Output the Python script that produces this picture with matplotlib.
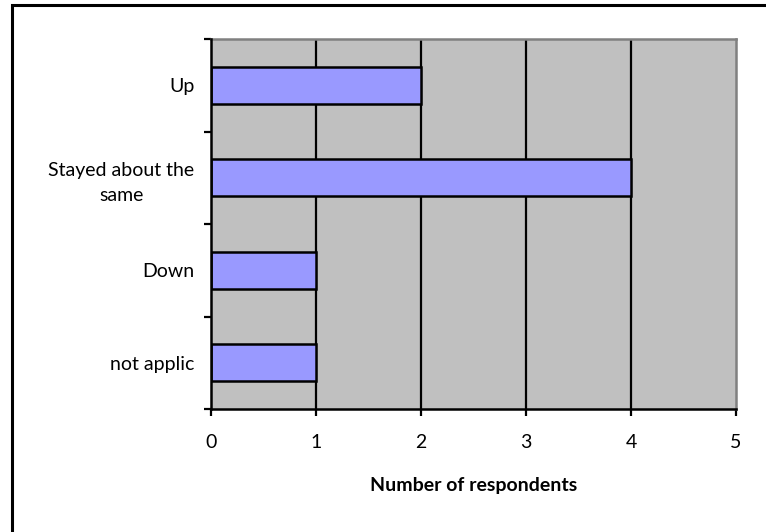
import matplotlib
matplotlib.use("Agg")
import matplotlib.pyplot as plt
from matplotlib.patches import Rectangle

categories = ["not applic", "Down", "Stayed about the\nsame", "Up"]
counts = [1, 1, 4, 2]
x_ticks = [0, 1, 2, 3, 4, 5]
x_label = "Number of respondents"

plt.rcParams["font.family"] = ["Lato", "DejaVu Sans"]
FS = 14

W, H = 766, 532
fig = plt.figure(figsize=(W / 100, H / 100), dpi=100)
fig.patch.set_facecolor("white")

# outer frame (left and top edges visible)
fig.add_artist(Rectangle((12 / W, -0.1), 1.2, (H - 5) / H + 0.1,
                         transform=fig.transFigure, fill=False,
                         edgecolor="black", linewidth=2.2))

left, right, top, bottom = 211, 736, 39, 409
ax = fig.add_axes([left / W, 1 - bottom / H, (right - left) / W, (bottom - top) / H])
ax.set_facecolor("#C0C0C0")

ypos = list(range(len(categories)))
ax.barh(ypos, counts, height=0.4, color="#9999FF", edgecolor="black",
        linewidth=1.8, zorder=3)

ax.set_xlim(0, 5)
ax.set_ylim(-0.5, len(categories) - 0.5)
ax.set_xticks(x_ticks)
ax.set_xticklabels([str(t) for t in x_ticks], fontsize=FS)
for x in x_ticks[1:-1]:
    ax.axvline(x, color="black", linewidth=1.6, zorder=2)

ax.set_yticks([y - 0.5 for y in range(len(categories) + 1)])
ax.set_yticklabels([])
ax.set_yticks(ypos, minor=True)
ax.set_yticklabels(categories, minor=True, fontsize=FS, multialignment="center",
                   linespacing=1.55)
ax.tick_params(axis="y", which="major", length=5, width=1.6, direction="out")
ax.tick_params(axis="y", which="minor", length=0, pad=12)
ax.tick_params(axis="x", length=5, width=1.6, direction="out", pad=13)

ax.set_xlabel(x_label, fontsize=FS, fontweight="bold", labelpad=19)

for side in ("left", "bottom"):
    ax.spines[side].set_color("black")
    ax.spines[side].set_linewidth(1.8)
for side in ("top", "right"):
    ax.spines[side].set_color("#808080")
    ax.spines[side].set_linewidth(1.8)
ax.spines["left"].set_zorder(4)

fig.savefig("out.png", dpi=100)
